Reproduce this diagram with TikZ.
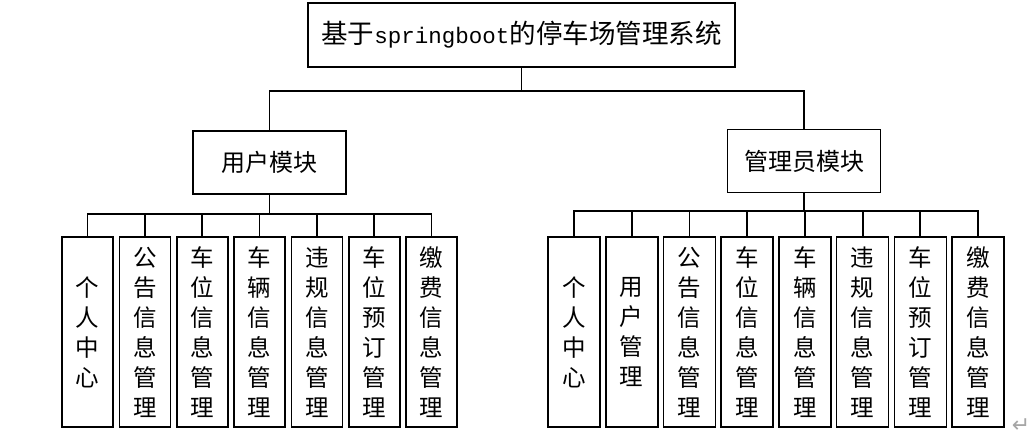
\documentclass[tikz,border=0pt]{standalone}
\usepackage{fontspec}
\newfontfamily\cjk{Noto Sans CJK SC}
\newfontfamily\mono{Liberation Mono}
\newfontfamily\dejavu{DejaVu Sans}
\tikzset{
  sysbox/.style={draw, line width=1.6pt, minimum width=427pt, minimum height=64pt, inner sep=0pt, font=\cjk\fontsize{26.5}{30}\selectfont},
  modbox/.style={draw, line width=1.6pt, minimum width=153pt, minimum height=63pt, inner sep=0pt, font=\cjk\fontsize{24}{30}\selectfont},
  leafbox/.style={draw, line width=1.6pt, minimum width=51pt, minimum height=190pt, inner sep=0pt, align=center, font=\cjk\fontsize{23.5}{30}\selectfont},
  link/.style={line width=1.8pt},
}
\begin{document}
\begin{tikzpicture}[x=1pt, y=-1pt]
                \useasboundingbox (0,0) rectangle (1031,438);
                
                % Drawing system box
                \node [sysbox] (sys) at (521.5,35) {基于{\mono\fontsize{22.5}{24}\selectfont springboot}的停车场管理系统};%
                
                % Drawing module boxes
                \node [modbox] (user) at (269.5,162.5) {用户模块};%
                \node [modbox] (admin) at (804,161) {管理员模块};%
                
                % Drawing user leaves
                \node [leafbox] (u1) at (87.5,332) {个\\人\\中\\心};%
                \node [leafbox] (u2) at (144.8,332) {公\\告\\信\\息\\管\\理};%
                \node [leafbox] (u3) at (202.2,332) {车\\位\\信\\息\\管\\理};%
                \node [leafbox] (u4) at (259.5,332) {车\\辆\\信\\息\\管\\理};%
                \node [leafbox] (u5) at (316.8,332) {违\\规\\信\\息\\管\\理};%
                \node [leafbox] (u6) at (374.2,332) {车\\位\\预\\订\\管\\理};%
                \node [leafbox] (u7) at (431.5,332) {缴\\费\\信\\息\\管\\理};%
                
                % Drawing admin leaves
                \node [leafbox, minimum width=52pt] (a1) at (574,332) {个\\人\\中\\心};%
                \node [leafbox, minimum width=52pt] (a2) at (631.7,332) {用\\户\\管\\理};%
                \node [leafbox, minimum width=52pt] (a3) at (689.4,332) {公\\告\\信\\息\\管\\理};%
                \node [leafbox, minimum width=52pt] (a4) at (747.1,332) {车\\位\\信\\息\\管\\理};%
                \node [leafbox, minimum width=52pt] (a5) at (804.9,332) {车\\辆\\信\\息\\管\\理};%
                \node [leafbox, minimum width=52pt] (a6) at (862.6,332) {违\\规\\信\\息\\管\\理};%
                \node [leafbox, minimum width=52pt] (a7) at (920.3,332) {车\\位\\预\\订\\管\\理};%
                \node [leafbox, minimum width=52pt] (a8) at (978,332) {缴\\费\\信\\息\\管\\理};%
                
                % Drawing system links
                \draw [link] (sys.south) -- ++(0,23) -| (user.north);%
                \draw [link] (sys.south) -- ++(0,23) -| (admin.north);%
                
                % Drawing user links
                \draw [link] (user.south) -- ++(0,19) -| (u1.north);%
                \draw [link] (user.south) -- ++(0,19) -| (u2.north);%
                \draw [link] (user.south) -- ++(0,19) -| (u3.north);%
                \draw [link] (user.south) -- ++(0,19) -| (u4.north);%
                \draw [link] (user.south) -- ++(0,19) -| (u5.north);%
                \draw [link] (user.south) -- ++(0,19) -| (u6.north);%
                \draw [link] (user.south) -- ++(0,19) -| (u7.north);%
                
                % Drawing admin links
                \draw [link] (admin.south) -- ++(0,18) -| (a1.north);%
                \draw [link] (admin.south) -- ++(0,18) -| (a2.north);%
                \draw [link] (admin.south) -- ++(0,18) -| (a3.north);%
                \draw [link] (admin.south) -- ++(0,18) -| (a4.north);%
                \draw [link] (admin.south) -- ++(0,18) -| (a5.north);%
                \draw [link] (admin.south) -- ++(0,18) -| (a6.north);%
                \draw [link] (admin.south) -- ++(0,18) -| (a7.north);%
                \draw [link] (admin.south) -- ++(0,18) -| (a8.north);%
                
                % Marking return mark
                \node [text=gray!70, font=\dejavu\fontsize{22}{24}\selectfont] (ret) at (1021,426) {↵};%
            \end{tikzpicture}
\end{document}
